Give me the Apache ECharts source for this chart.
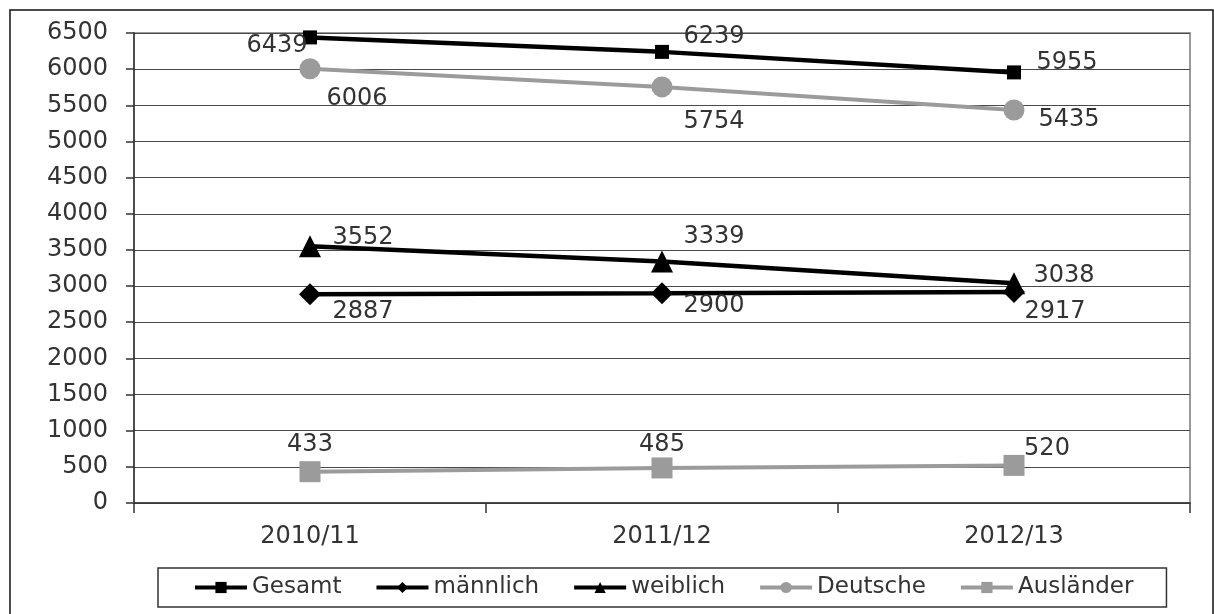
<!DOCTYPE html>
<html>
<head>
<meta charset="utf-8">
<script src="https://cdn.jsdelivr.net/npm/echarts@6/dist/echarts.min.js"></script>
<style>
html,body{margin:0;padding:0;background:#fff;}
#chart{width:1214px;height:614px;}
</style>
</head>
<body>
<div id="chart"></div>
<script>
// ---- data ----
var categories = ['2010/11', '2011/12', '2012/13'];
var seriesNames = ['Gesamt', 'männlich', 'weiblich', 'Deutsche', 'Ausländer'];
var gesamt = [6439, 6239, 5955];
var maennlich = [2887, 2900, 2917];
var weiblich = [3552, 3339, 3038];
var deutsche = [6006, 5754, 5435];
var auslaender = [433, 485, 520];
var yTicks = {min: 0, max: 6500, interval: 500};

// ---- label placement (styling only) ----
var offGesamt = [[-33, 8], [52, -15], [53, -10]];
var offMaennlich = [[53, 18], [52, 12], [41, 20]];
var offWeiblich = [[53, -8], [52, -25], [50, -8]];
var offDeutsche = [[47, 30], [52, 35], [55, 10]];
var offAuslaender = [[0, -27], [0, -23], [33, -17]];

var FONT = 'DejaVu Sans';
var TXT = '#333333';
var GRAY = '#9b9b9b';

function withLabels(values, offsets) {
  return values.map(function (v, i) {
    return {
      value: v,
      label: {offset: offsets[i]}
    };
  });
}

function mkSeries(name, values, offsets, color, symbol, size, width, z) {
  return {
    name: name,
    type: 'line',
    data: withLabels(values, offsets),
    symbol: symbol,
    symbolSize: size,
    showAllSymbol: true,
    z: z,
    lineStyle: {color: color, width: width},
    itemStyle: {color: color, borderWidth: 0},
    label: {
      show: true,
      position: 'inside',
      color: TXT,
      fontFamily: FONT,
      fontSize: 24
    },
    emphasis: {disabled: true},
    animation: false
  };
}

var chart = echarts.init(document.getElementById('chart'), null, {renderer: 'canvas'});
chart.setOption({
  backgroundColor: '#fff',
  animation: false,
  graphic: [{
    type: 'rect',
    shape: {x: 10, y: 10, width: 1203, height: 620},
    style: {fill: 'none', stroke: '#111', lineWidth: 1.5},
    z: 100,
    silent: true
  }],
  grid: {
    left: 134, top: 33, right: 24, bottom: 111,
    show: true, borderColor: '#9a9a9a', borderWidth: 2, backgroundColor: 'transparent'
  },
  legend: {
    data: seriesNames,
    left: 158,
    top: 568,
    orient: 'horizontal',
    padding: [8, 33, 8, 35],
    itemGap: 33,
    itemWidth: 52,
    itemHeight: 14,
    borderColor: '#333',
    borderWidth: 1.5,
    lineStyle: {width: 4},
    textStyle: {fontFamily: FONT, fontSize: 23, color: TXT},
    selectedMode: false
  },
  xAxis: {
    type: 'category',
    data: categories,
    boundaryGap: true,
    axisLine: {show: true, lineStyle: {color: '#333', width: 1.5}},
    axisTick: {show: true, length: 10, lineStyle: {color: '#333', width: 1.5}},
    axisLabel: {fontFamily: FONT, fontSize: 24, color: TXT, margin: 22},
    splitLine: {show: false}
  },
  yAxis: {
    type: 'value',
    min: yTicks.min,
    max: yTicks.max,
    interval: yTicks.interval,
    axisLine: {show: true, lineStyle: {color: '#333', width: 1.5}},
    axisTick: {show: true, length: 8, lineStyle: {color: '#333', width: 1.5}},
    axisLabel: {fontFamily: FONT, fontSize: 24, color: TXT, margin: 26,
      formatter: function (v) { return String(v); }},
    splitLine: {show: true, lineStyle: {color: '#4a4a4a', width: 1}}
  },
  series: [
    mkSeries('Gesamt', gesamt, offGesamt, '#000', 'rect', 14, 4.5, 5),
    mkSeries('männlich', maennlich, offMaennlich, '#000', 'diamond', 22, 4.5, 4),
    mkSeries('weiblich', weiblich, offWeiblich, '#000', 'triangle', 22, 4.5, 3),
    mkSeries('Deutsche', deutsche, offDeutsche, GRAY, 'circle', 21, 4, 2),
    mkSeries('Ausländer', auslaender, offAuslaender, GRAY, 'rect', 21, 4, 1)
  ]
});
</script>
</body>
</html>
